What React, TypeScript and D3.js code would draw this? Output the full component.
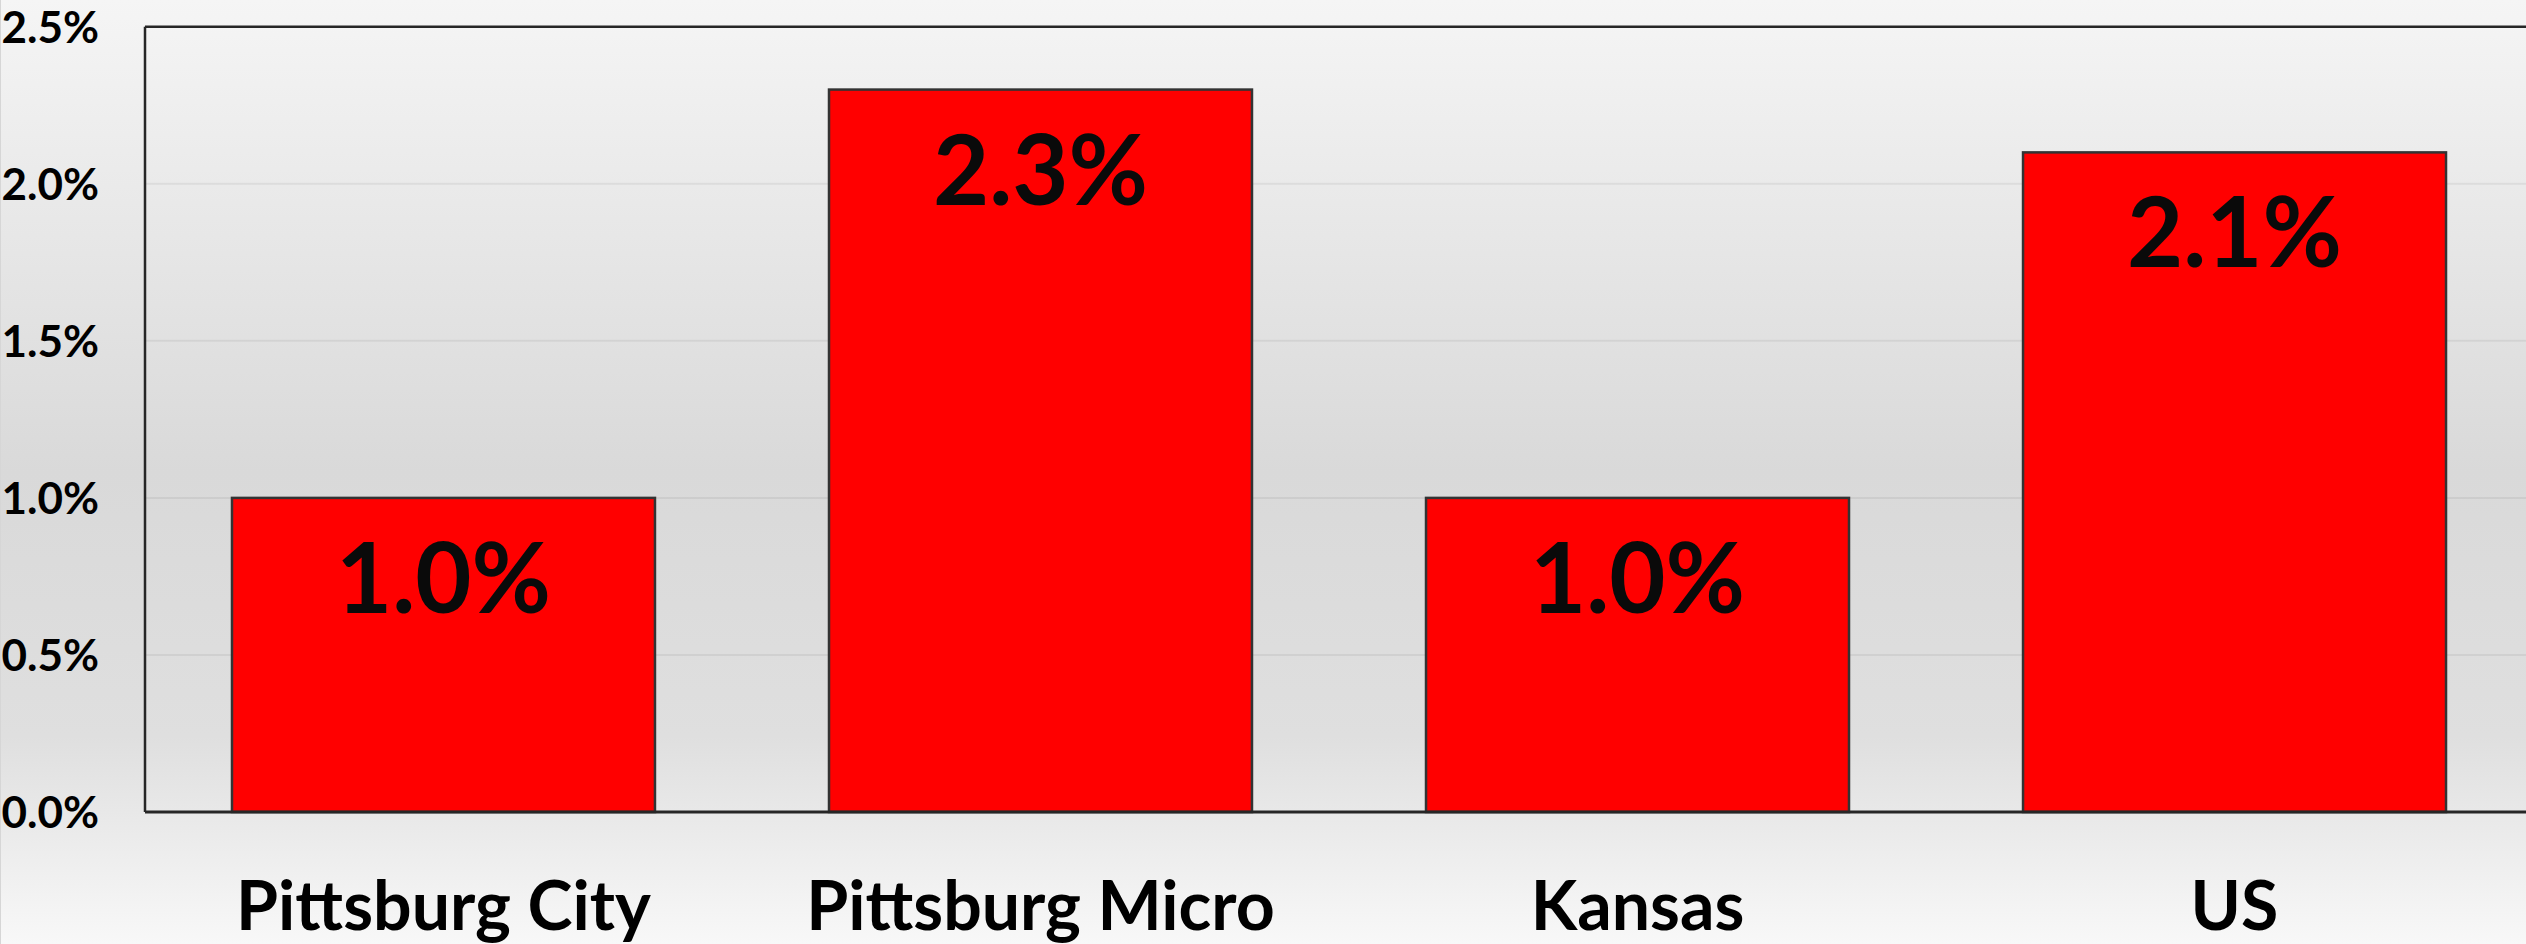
import React from "react";
import * as d3 from "d3";

const categories = ["Pittsburg City", "Pittsburg Micro", "Kansas", "US"];
const values = [0.01, 0.023, 0.01, 0.021];
const yTicks = [0, 0.005, 0.01, 0.015, 0.02, 0.025];

const W = 2526;
const H = 944;
const FONT = "Lato, 'Open Sans', sans-serif";

export default function App() {
  const plotLeft = 145;
  const plotTop = 26.75;
  const plotBottom = 812;
  const x = d3
    .scaleBand<string>()
    .domain(categories)
    .range([plotLeft, 2533])
    .paddingInner(0.2915)
    .paddingOuter(0.1457);
  const y = d3.scaleLinear().domain([0, 0.025]).range([plotBottom, plotTop]);
  const pct = d3.format(".1%");

  return (
    <svg
      width={W}
      height={H}
      style={{ position: "absolute", left: 0, top: 0 }}
      xmlns="http://www.w3.org/2000/svg"
    >
      <defs>
        <linearGradient id="bg" x1="0" y1="0" x2="0" y2="1">
          <stop offset="0" stopColor="#f5f5f5" />
          <stop offset="0.5" stopColor="#d9d9d9" />
          <stop offset="0.78" stopColor="#dfdfdf" />
          <stop offset="1" stopColor="#f8f8f8" />
        </linearGradient>
      </defs>
      <rect x={0} y={0} width={W} height={H} fill="url(#bg)" />
      <line x1={0.5} y1={0} x2={0.5} y2={H} stroke="#d6d6d6" strokeWidth={1} />
      {/* gridlines */}
      {yTicks.slice(1, -1).map((t) => (
        <line
          key={"g" + t}
          x1={plotLeft}
          x2={W}
          y1={y(t)}
          y2={y(t)}
          stroke="rgba(0,0,0,0.06)"
          strokeWidth={2}
        />
      ))}
      {/* plot border top and left */}
      <line x1={plotLeft} x2={W} y1={y(0.025)} y2={y(0.025)} stroke="#262626" strokeWidth={2.5} />
      <line x1={plotLeft} x2={plotLeft} y1={y(0.025)} y2={plotBottom} stroke="#262626" strokeWidth={2.5} />
      {/* bars */}
      {categories.map((c, i) => (
        <rect
          key={c}
          x={x(c)}
          y={y(values[i])}
          width={x.bandwidth()}
          height={plotBottom - y(values[i])}
          fill="#ff0000"
          stroke="#333333"
          strokeWidth={2.5}
        />
      ))}
      {/* axis line */}
      <line x1={plotLeft} x2={W} y1={plotBottom} y2={plotBottom} stroke="#262626" strokeWidth={3} />
      {/* value labels */}
      {categories.map((c, i) => (
        <text
          key={"v" + c}
          x={(x(c) as number) + x.bandwidth() / 2}
          y={y(values[i]) + 115}
          textAnchor="middle"
          fontFamily={FONT}
          fontWeight={700}
          fontSize={97}
          fill="#0a0a0a"
        >
          {pct(values[i])}
        </text>
      ))}
      {/* y tick labels */}
      {yTicks.map((t) => (
        <text
          key={"y" + t}
          x={99}
          y={y(t) + 16}
          textAnchor="end"
          fontFamily={FONT}
          fontWeight={700}
          fontSize={44}
          fill="#000"
        >
          {pct(t)}
        </text>
      ))}
      {/* x labels */}
      {categories.map((c) => (
        <text
          key={"x" + c}
          x={(x(c) as number) + x.bandwidth() / 2}
          y={930}
          textAnchor="middle"
          fontFamily={FONT}
          fontWeight={700}
          fontSize={68}
          fill="#000"
        >
          {c}
        </text>
      ))}
    </svg>
  );
}
